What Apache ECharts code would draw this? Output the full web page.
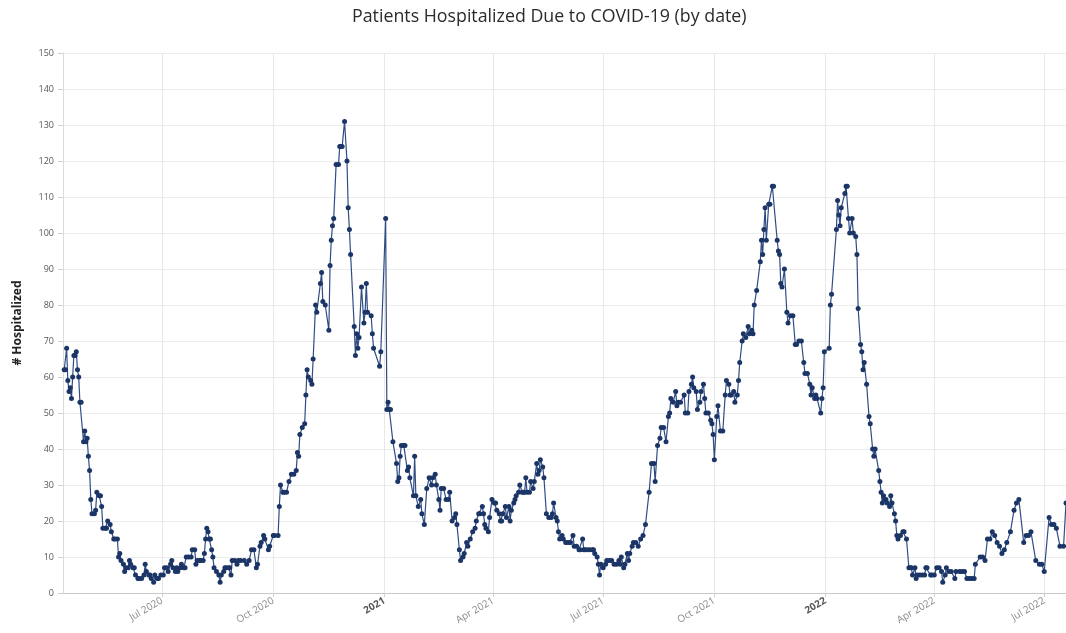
<!DOCTYPE html>
<html>
<head>
<meta charset="utf-8">
<title>Patients Hospitalized Due to COVID-19</title>
<script src="https://cdn.jsdelivr.net/npm/echarts@6/dist/echarts.min.js"></script>
<style>
	html, body { margin: 0; padding: 0; background: #fff; }
	#chart { width: 1066px; height: 633px; }
</style>
</head>
<body>
<div id="chart"></div>
<script>
// first day shown on the axis; data days are counted from here
const startDate = [2020, 3, 10];
// the right edge of the plot cuts the last reading in half
const endDay = 830;

// day number (days since startDate) of each reading, row by row with the values below
const dayNumbers = [
	1, 2, 3, 4, 5, 6, 7, 8, 9, 10,
	11, 12, 13, 14, 15, 17, 18, 19, 20, 21,
	22, 23, 24, 26, 27, 28, 30, 31, 32, 33,
	35, 36, 37, 39, 40, 42, 43, 45, 46, 47,
	48, 50, 51, 52, 54, 55, 56, 58, 59, 60,
	62, 63, 65, 67, 68, 69, 71, 72, 73, 75,
	76, 78, 79, 81, 83, 84, 86, 87, 89, 90,
	91, 93, 94, 95, 97, 98, 100, 101, 102, 104,
	106, 107, 109, 110, 111, 113, 114, 116, 117, 118,
	119, 120, 121, 122, 123, 124, 125, 127, 129, 130,
	131, 133, 134, 135, 137, 138, 139, 140, 142, 144,
	145, 147, 150, 152, 154, 156, 158, 160, 161, 163,
	164, 166, 167, 170, 171, 174, 175, 178, 179, 180,
	182, 183, 185, 187, 189, 191, 193, 194, 195, 196,
	198, 200, 201, 202, 203, 205, 206, 207, 209, 210,
	213, 214, 215, 217, 220, 221, 222, 223, 224, 226,
	228, 229, 230, 231, 233, 235, 236, 237, 238, 241,
	242, 243, 244, 245, 247, 249, 250, 251, 252, 255,
	256, 257, 262, 263, 267, 268, 269, 270, 271, 273,
	276, 277, 278, 279, 280, 282, 283, 285, 286, 287,
	290, 291, 292, 294, 296, 297, 299, 301, 303, 305,
	306, 308, 309, 311, 312, 313, 315, 317, 319, 320,
	322, 324, 325, 326, 328, 329, 331, 332, 334, 335,
	337, 339, 341, 342, 344, 345, 347, 348, 349, 350,
	352, 353, 355, 357, 358, 359, 361, 362, 363, 364,
	366, 367, 369, 370, 371, 373, 374, 375, 377, 378,
	380, 381, 382, 383, 384, 386, 387, 389, 390, 392,
	393, 394, 395, 397, 398, 400, 402, 404, 405, 406,
	408, 409, 410, 411, 413, 414, 416, 417, 419, 420,
	422, 423, 425, 427, 428, 430, 431, 432, 434, 436,
	438, 439, 440, 442, 443, 444, 445, 447, 449, 450,
	452, 454, 456, 458, 460, 461, 462, 464, 465, 467,
	468, 469, 471, 472, 474, 476, 478, 480, 482, 485,
	487, 489, 490, 492, 494, 495, 497, 499, 501, 502,
	503, 505, 507, 508, 509, 511, 514, 515, 517, 518,
	520, 521, 522, 524, 525, 527, 528, 530, 531, 532,
	534, 536, 537, 538, 539, 541, 542, 544, 546, 548,
	549, 551, 552, 553, 555, 556, 558, 559, 560, 562,
	563, 565, 567, 568, 570, 571, 572, 574, 577, 578,
	579, 580, 581, 582, 584, 585, 587, 588, 591, 592,
	593, 594, 595, 597, 599, 600, 602, 604, 606, 607,
	609, 611, 613, 614, 616, 618, 619, 620, 622, 623,
	624, 627, 628, 629, 630, 634, 635, 636, 640, 641,
	642, 643, 644, 647, 648, 649, 650, 651, 653, 654,
	656, 657, 658, 660, 661, 662, 663, 665, 667, 668,
	670, 671, 672, 675, 676, 677, 678, 679, 680, 681,
	682, 684, 685, 686, 688, 689, 690, 691, 693, 695,
	696, 698, 700, 701, 702, 703, 705, 706, 707, 709,
	711, 713, 714, 715, 718, 719, 721, 723, 725, 727,
	728, 730, 731, 733, 735, 738, 739, 742, 744, 746,
	748, 750, 752, 754, 755, 759, 761, 763, 765, 767,
	769, 771, 773, 775, 777, 779, 781, 784, 787, 789,
	791, 795, 797, 799, 801, 805, 808, 810, 812, 816,
	818, 820, 822, 825, 828, 830
];

// # hospitalized, same rows as dayNumbers
const hospitalized = [
	62, 62, 68, 59, 56, 57, 54, 60, 66, 66,
	67, 62, 60, 53, 53, 42, 45, 42, 43, 38,
	34, 26, 22, 22, 23, 28, 27, 27, 24, 18,
	18, 18, 20, 19, 17, 15, 15, 15, 10, 11,
	9, 8, 6, 7, 7, 9, 8, 7, 7, 5,
	4, 4, 4, 5, 8, 6, 5, 5, 4, 3,
	5, 4, 4, 5, 5, 7, 7, 6, 8, 9,
	7, 6, 7, 6, 7, 8, 7, 7, 10, 10,
	10, 12, 12, 8, 9, 9, 9, 9, 11, 15,
	18, 17, 15, 15, 12, 10, 7, 6, 5, 3,
	5, 6, 7, 7, 7, 7, 5, 9, 9, 8,
	9, 9, 9, 8, 9, 12, 12, 7, 8, 13,
	14, 16, 15, 12, 13, 16, 16, 16, 24, 30,
	28, 28, 28, 31, 33, 33, 34, 39, 38, 44,
	46, 47, 55, 62, 60, 59, 58, 65, 80, 78,
	86, 89, 81, 80, 73, 91, 98, 102, 104, 119,
	119, 124, 124, 124, 131, 120, 107, 101, 94, 74,
	66, 72, 68, 71, 85, 75, 78, 86, 78, 77,
	72, 68, 63, 67, 104, 51, 53, 51, 51, 42,
	36, 31, 32, 38, 41, 41, 41, 34, 35, 32,
	27, 38, 27, 24, 26, 22, 19, 29, 32, 30,
	32, 33, 30, 26, 23, 29, 29, 26, 26, 28,
	20, 21, 22, 19, 12, 9, 10, 11, 14, 13,
	15, 17, 18, 20, 22, 22, 24, 22, 19, 18,
	17, 21, 26, 25, 25, 23, 22, 20, 20, 22,
	24, 21, 24, 20, 23, 25, 26, 27, 28, 30,
	28, 28, 28, 32, 28, 28, 31, 29, 31, 36,
	33, 34, 37, 35, 32, 22, 21, 21, 22, 25,
	21, 20, 17, 15, 16, 15, 14, 14, 14, 14,
	16, 13, 13, 12, 12, 15, 12, 12, 12, 12,
	12, 12, 11, 10, 8, 5, 8, 7, 8, 9,
	9, 9, 8, 8, 9, 8, 10, 7, 8, 11,
	9, 11, 13, 14, 14, 13, 15, 16, 19, 28,
	36, 36, 31, 41, 43, 46, 46, 42, 49, 50,
	54, 53, 56, 52, 53, 53, 55, 50, 50, 56,
	58, 60, 57, 56, 51, 53, 56, 58, 54, 50,
	50, 48, 47, 44, 37, 49, 52, 45, 45, 55,
	59, 58, 55, 55, 56, 53, 55, 59, 64, 70,
	72, 71, 74, 72, 73, 72, 80, 84, 92, 98,
	94, 101, 107, 98, 108, 108, 113, 113, 98, 95,
	94, 86, 85, 90, 78, 75, 77, 77, 69, 69,
	70, 70, 64, 61, 61, 58, 55, 57, 54, 55,
	54, 50, 54, 57, 67, 68, 80, 83, 101, 109,
	105, 102, 107, 111, 113, 113, 104, 100, 104, 100,
	99, 94, 79, 69, 67, 62, 64, 58, 49, 47,
	40, 38, 40, 34, 31, 28, 25, 27, 26, 26,
	25, 24, 27, 25, 22, 20, 16, 15, 16, 17,
	17, 15, 7, 7, 7, 5, 7, 4, 5, 5,
	5, 5, 7, 7, 5, 5, 5, 7, 7, 6,
	3, 5, 7, 6, 6, 4, 6, 6, 6, 6,
	4, 4, 4, 4, 8, 10, 10, 9, 15, 15,
	17, 16, 14, 13, 11, 12, 14, 17, 23, 25,
	26, 14, 16, 16, 17, 9, 8, 8, 6, 21,
	19, 19, 18, 13, 13, 25
];

// quarter ticks on the x axis
const tickDates = [[2020, 6, 1], [2020, 9, 1], [2021, 0, 1], [2021, 3, 1], [2021, 6, 1], [2021, 9, 1], [2022, 0, 1], [2022, 3, 1], [2022, 6, 1]];
const tickLabels = ['Jul 2020', 'Oct 2020', '2021', 'Apr 2021', 'Jul 2021', 'Oct 2021', '2022', 'Apr 2022', 'Jul 2022'];

function dayToTime(d) {
	return new Date(startDate[0], startDate[1], startDate[2] + d).getTime();
}

let seriesData = [];
dayNumbers.map((d, i) => {
	seriesData.push([dayToTime(d), hospitalized[i]]);
});
let tickTimes = tickDates.map((t) => new Date(t[0], t[1], t[2]).getTime());

let myChart = echarts.init(document.getElementById('chart'), null, { renderer: 'canvas' });

let option = {
	animation: false,
	backgroundColor: '#fff',
	title: {
		text: 'Patients Hospitalized Due to COVID-19 (by date)',
		left: 347,
		top: 3,
		textStyle: {
			fontFamily: 'Open Sans',
			fontSize: 17.8,
			fontWeight: 'normal',
			color: '#2b2b2b',
		},
	},
	grid: {
		left: 63,
		right: 0,
		top: 53,
		bottom: 40,
		containLabel: false,
	},
	xAxis: {
		// timestamps on a plain value axis, ticks placed at quarter starts
		type: 'value',
		min: dayToTime(0),
		max: dayToTime(endDay),
		axisLine: { lineStyle: { color: '#c8c8c8' } },
		axisTick: {
			show: true,
			length: 4,
			customValues: tickTimes,
			lineStyle: { color: '#d0d0d0' },
		},
		splitLine: {
			show: true,
			lineStyle: { color: '#e8e8e8', width: 1 },
		},
		axisLabel: {
			customValues: tickTimes,
			rotate: 30,
			margin: 7,
			fontFamily: 'Open Sans',
			fontSize: 10,
			color: '#8a8a8a',
			formatter: (val) => {
				let idx = tickTimes.indexOf(val);
				let txt = idx >= 0 ? tickLabels[idx] : '';
				return txt.length === 4 ? '{yr|' + txt + '}' : txt;
			},
			rich: {
				yr: { fontFamily: 'Open Sans', fontSize: 10, fontWeight: 'bold', color: '#555' },
			},
		},
	},
	yAxis: {
		type: 'value',
		min: 0,
		max: 150,
		interval: 10,
		name: '# Hospitalized',
		nameLocation: 'middle',
		nameGap: 39,
		nameTextStyle: {
			fontFamily: 'Open Sans',
			fontSize: 12,
			fontWeight: 'bold',
			color: '#222',
		},
		axisLine: { show: true, lineStyle: { color: '#dcdcdc' } },
		axisTick: { show: true, length: 5, lineStyle: { color: '#d0d0d0' } },
		axisLabel: {
			fontFamily: 'Open Sans',
			fontSize: 9,
			color: '#555',
			margin: 9,
		},
		splitLine: { lineStyle: { color: '#ececec' } },
	},
	series: [
		{
			name: '# Hospitalized',
			type: 'line',
			data: seriesData,
			symbol: 'circle',
			symbolSize: 5,
			showSymbol: true,
			lineStyle: { color: '#2f4d84', width: 1.2 },
			itemStyle: { color: '#1b3566' },
			emphasis: { disabled: true },
		},
	],
};
myChart.setOption(option);
</script>
</body>
</html>
